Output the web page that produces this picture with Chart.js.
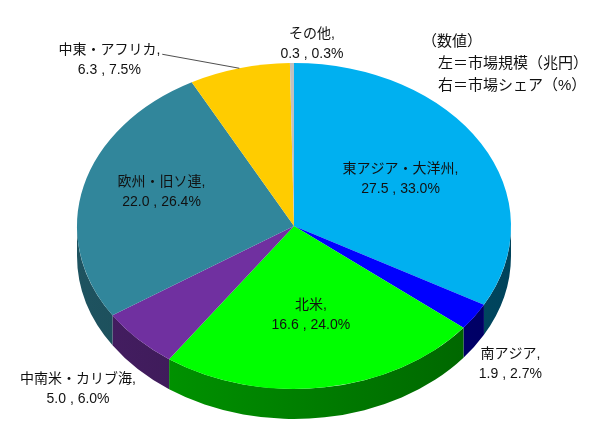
<!DOCTYPE html>
<html>
<head>
<meta charset="utf-8">
<script src="https://cdn.jsdelivr.net/npm/chart.js@4/dist/chart.umd.min.js"></script>
<style>
  html, body { margin: 0; padding: 0; background: #fff; }
  #wrap { width: 595px; height: 431px; }
</style>
</head>
<body>
<div id="wrap"><canvas id="c" width="595" height="431"></canvas></div>
<script>
const regions = ["東アジア・大洋州", "南アジア", "北米", "中南米・カリブ海", "欧州・旧ソ連", "中東・アフリカ", "その他"];
const marketSize = [27.5, 1.9, 16.6, 5.0, 22.0, 6.3, 0.3];
const marketShare = [33.0, 2.7, 24.0, 6.0, 26.4, 7.5, 0.3];
const noteLines = ["（数値）", "左＝市場規模（兆円）", "右＝市場シェア（%）"];

const sliceColors = ["#00b0f0", "#0000ff", "#00ff00", "#7030a0", "#31869b", "#ffcc00", "#c0c0c0"];

// ellipse of the top face and thickness of the pie
const CX = 294, CY = 226, RX = 217, RY = 163, DEPTH = 30;
const FONT = '"Liberation Sans", "Noto Sans CJK JP", sans-serif';

// label placement: inside = fraction of radius, outside = offset from rim point
const labelPlace = [
	{ f: 0.57 },
	{ dx: 36, dy: 48 },
	{ f: 0.55 },
	{ dx: -60, dy: 50 },
	{ f: 0.63, dy: -8 },
	{ dx: -130, dy: -8, leader: true },
	{ dx: 20, dy: -19 }
];

function shade(hex, k) {
	const n = parseInt(hex.slice(1), 16);
	const r = Math.round(((n >> 16) & 255) * k);
	const g = Math.round(((n >> 8) & 255) * k);
	const b = Math.round((n & 255) * k);
	return "rgb(" + r + "," + g + "," + b + ")";
}

const pie3d = {
	id: "pie3d",
	beforeDatasetsDraw(chart) {
		const ctx = chart.ctx;
		const arcs = chart.getDatasetMeta(0).data;
		const a0 = arcs[0];

		// side wall, only the front half can be seen
		arcs.forEach((arc, i) => {
			const s = Math.max(arc.startAngle, 0);
			const e = Math.min(arc.endAngle, Math.PI);
			if (s >= e) return;
			const grad = ctx.createLinearGradient(CX - RX, 0, CX + RX, 0);
			grad.addColorStop(0, shade(sliceColors[i], 0.62));
			grad.addColorStop(1, shade(sliceColors[i], 0.38));
			ctx.beginPath();
			ctx.ellipse(CX, CY, RX, RY, 0, s, e);
			ctx.ellipse(CX, CY + DEPTH, RX, RY, 0, e, s, true);
			ctx.closePath();
			ctx.fillStyle = grad;
			ctx.fill();
		});

		// squash the round pie onto the top ellipse
		ctx.save();
		ctx.translate(CX, CY);
		ctx.scale(RX / a0.outerRadius, RY / a0.outerRadius);
		ctx.translate(-a0.x, -a0.y);
	},
	afterDatasetsDraw(chart) {
		chart.ctx.restore();
	},
	afterDraw(chart) {
		const ctx = chart.ctx;
		const arcs = chart.getDatasetMeta(0).data;
		ctx.save();
		ctx.fillStyle = "#111";
		ctx.textAlign = "center";
		ctx.textBaseline = "middle";
		ctx.font = "14px " + FONT;

		arcs.forEach((arc, i) => {
			const p = labelPlace[i];
			const mid = (arc.startAngle + arc.endAngle) / 2;
			let x, y;
			if (p.f !== undefined) {
				x = CX + p.f * RX * Math.cos(mid);
				y = CY + p.f * RY * Math.sin(mid) + (p.dy || 0);
			} else {
				x = CX + RX * Math.cos(mid) + p.dx;
				y = CY + RY * Math.sin(mid) + p.dy;
			}
			const line1 = regions[i] + ",";
			const line2 = marketSize[i].toFixed(1) + " , " + marketShare[i].toFixed(1) + "%";
			ctx.fillText(line1, x, y - 10);
			ctx.fillText(line2, x, y + 10);

			if (p.leader) {
				const w = ctx.measureText(line1).width;
				ctx.beginPath();
				ctx.moveTo(x + w / 2 + 2, y - 6);
				ctx.lineTo(CX + RX * Math.cos(mid), CY + RY * Math.sin(mid));
				ctx.strokeStyle = "#222";
				ctx.lineWidth = 0.8;
				ctx.stroke();
			}
		});

		// note at top right
		ctx.textAlign = "left";
		ctx.font = "15px " + FONT;
		ctx.fillText(noteLines[0], 422, 42);
		ctx.fillText(noteLines[1], 438, 64);
		ctx.fillText(noteLines[2], 438, 86);
		ctx.restore();
	}
};

new Chart(document.getElementById("c"), {
	type: "pie",
	data: {
		labels: regions,
		datasets: [
			{
				data: marketShare,
				backgroundColor: sliceColors,
				borderWidth: 0,
				clip: false
			}
		]
	},
	options: {
		responsive: false,
		animation: false,
		events: [],
		layout: { padding: { left: 150, right: 150, top: 68, bottom: 68 } },
		plugins: {
			legend: { display: false },
			tooltip: { enabled: false }
		}
	},
	plugins: [pie3d]
});
</script>
</body>
</html>
